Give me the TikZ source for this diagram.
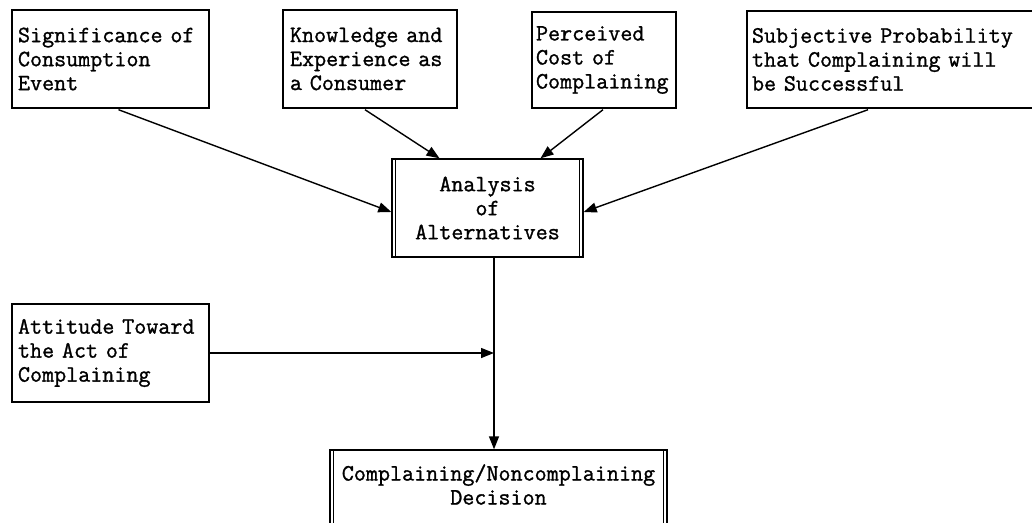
\documentclass[tikz,border=0pt]{standalone}
\usepackage{fontspec}
\newfontfamily\twfont{Latin Modern Mono}[FakeBold=1.2]
\usetikzlibrary{arrows.meta,calc}
\begin{document}
\begin{tikzpicture}[x=1pt,y=-1pt,
  every node/.style={font=\twfont\fontsize{23.4}{24}\selectfont},
  box/.style={draw, line width=1.4pt, inner xsep=6pt, inner ysep=0pt, align=left, minimum height=98pt},
  dline/.style={line width=0.9pt},
  arr/.style={line width=1.4pt, -{Triangle[length=13pt,width=10pt]}}]
\useasboundingbox (0,0) rectangle (1032,522);
\node[box, text width=185pt] (b1) at (110.5,59) {Significance of\\Consumption\\Event};
\node[box, inner xsep=7pt, text width=160pt] (b2) at (370,59) {Knowledge and\\Experience as\\a Consumer};
\node[box, inner xsep=4pt, text width=136pt, minimum height=96pt] (b3) at (604,60) {Perceived\\Cost of\\Complaining};
\node[box, inner xsep=5pt, text width=280pt, minimum height=97pt] (b4) at (892,59.5) {Subjective Probability\\that Complaining will\\be Successful};
\node[box, align=center, text width=179pt] (ana) at (487.5,208) {Analysis\\of\\Alternatives};
\node[box, text width=185pt] (att) at (110.5,353) {Attitude Toward\\the Act of\\Complaining};
\node[box, align=center, text width=325pt, minimum height=100pt] (dec) at (498.5,500) {Complaining/Noncomplaining\\Decision\\\strut};
% double side edges
\draw[dline] ($(ana.north west)+(4,0)$) -- ($(ana.south west)+(4,0)$);
\draw[dline] ($(ana.north east)+(-4,0)$) -- ($(ana.south east)+(-4,0)$);
\draw[dline] ($(dec.north west)+(4,0)$) -- ($(dec.south west)+(4,0)$);
\draw[dline] ($(dec.north east)+(-4,0)$) -- ($(dec.south east)+(-4,0)$);
\coordinate (vx) at (494,0);
\draw[arr] ($(b1.south)+(8,1)$) -- ($(ana.west)+(0,4)$);
\draw[arr] ($(b2.south)+(-5,1)$) -- ($(ana.north)+(-48,0)$);
\draw[arr] ($(b3.south)+(-1,1)$) -- ($(ana.north)+(53,0)$);
\draw[arr] ($(b4.south)+(-24,1)$) -- ($(ana.east)+(0,4)$);
\draw[arr] (ana.south -| vx) -- (dec.north -| vx);
\draw[arr] (att.east) -- (att.east -| vx);
\end{tikzpicture}
\end{document}
